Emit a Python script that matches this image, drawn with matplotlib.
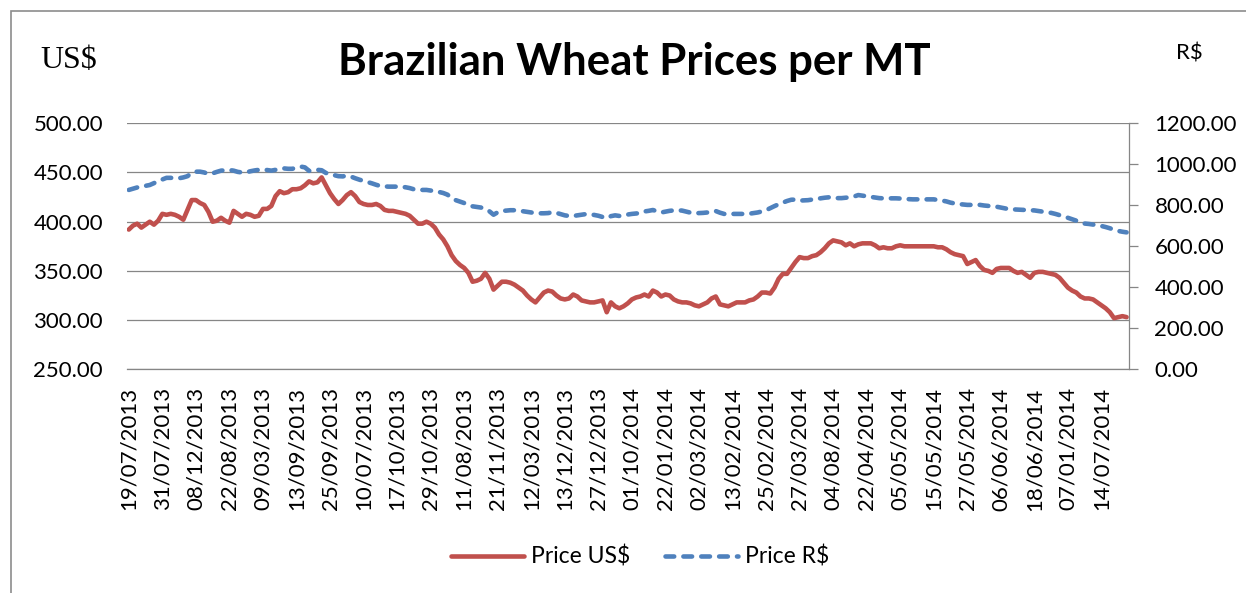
import numpy as np
import matplotlib.pyplot as plt
from matplotlib.patches import Rectangle

# Price series (every trading day)
price_usd = [
    392, 396, 398, 394, 397, 400, 397, 401, 408, 407,
    408, 407, 405, 402, 412, 422, 422, 419, 417, 410,
    400, 401, 404, 401, 399, 411, 408, 405, 408, 407,
    405, 406, 413, 413, 416, 426, 431, 429, 430, 433,
    433, 434, 437, 441, 439, 440, 445, 437, 429, 423,
    418, 422, 427, 430, 426, 420, 418, 417, 417, 418,
    416, 412, 411, 411, 410, 409, 408, 406, 402, 398,
    398, 400, 398, 394, 387, 382, 375, 366, 360, 356,
    353, 348, 339, 340, 342, 348, 342, 331, 335, 339,
    339, 338, 336, 333, 330, 325, 321, 318, 323, 328,
    330, 329, 325, 322, 321, 322, 326, 324, 320, 319,
    318, 318, 319, 320, 308, 318, 314, 312, 314, 317,
    321, 323, 324, 326, 324, 330, 328, 324, 326, 325,
    321, 319, 318, 318, 317, 315, 314, 316, 318, 322,
    324, 316, 315, 314, 316, 318, 318, 318, 320, 321,
    324, 328, 328, 327, 333, 342, 347, 347, 353, 359,
    364, 363, 363, 365, 366, 369, 373, 378, 381, 380,
    379, 376, 378, 375, 377, 378, 378, 378, 376, 373,
    374, 373, 373, 375, 376, 375, 375, 375, 375, 375,
    375, 375, 375, 374, 374, 372, 369, 367, 366, 365,
    357, 359, 361, 355, 351, 350, 348, 352, 353, 353,
    353, 350, 348, 349, 346, 343, 348, 349, 349, 348,
    347, 346, 343, 338, 333, 330, 328, 324, 322, 322,
    321, 318, 315, 312, 308, 302, 303, 304, 303,
]

price_brl = [
    875, 881, 887, 892, 895, 899, 908, 918, 926, 934,
    934, 932, 932, 936, 942, 958, 964, 964, 960, 953,
    956, 963, 969, 971, 972, 969, 963, 960, 961, 966,
    970, 973, 975, 972, 969, 973, 978, 980, 978, 978,
    984, 989, 985, 968, 968, 973, 971, 958, 952, 947,
    942, 941, 944, 940, 932, 925, 919, 913, 907, 900,
    894, 892, 891, 891, 891, 890, 888, 884, 878, 875,
    875, 875, 872, 869, 865, 860, 852, 836, 825, 818,
    811, 804, 795, 792, 789, 783, 771, 754, 766, 773,
    774, 776, 776, 774, 771, 768, 765, 762, 761, 761,
    762, 766, 763, 757, 751, 748, 748, 751, 754, 757,
    756, 753, 749, 743, 737, 747, 751, 748, 751, 755,
    758, 760, 762, 770, 773, 777, 771, 765, 769, 773,
    775, 776, 774, 769, 764, 761, 762, 763, 765, 770,
    772, 764, 758, 758, 758, 758, 758, 758, 759, 762,
    765, 770, 776, 786, 796, 805, 813, 821, 827, 828,
    823, 824, 825, 828, 832, 834, 837, 839, 838, 835,
    835, 837, 839, 843, 850, 847, 844, 841, 838, 835,
    834, 834, 834, 834, 833, 831, 830, 829, 829, 829,
    829, 829, 829, 826, 823, 819, 813, 809, 806, 804,
    802, 802, 802, 802, 799, 797, 795, 793, 789, 785,
    781, 780, 779, 778, 777, 776, 775, 772, 769, 766,
    763, 758, 752, 746, 739, 732, 725, 717, 711, 709,
    706, 703, 699, 694, 688, 681, 675, 671, 668,
]

# one label every 8 trading days, as printed on the axis
date_labels = [
    '19/07/2013', '31/07/2013', '08/12/2013', '22/08/2013', '09/03/2013',
    '13/09/2013', '25/09/2013', '10/07/2013', '17/10/2013', '29/10/2013',
    '11/08/2013', '21/11/2013', '12/03/2013', '13/12/2013', '27/12/2013',
    '01/10/2014', '22/01/2014', '02/03/2014', '13/02/2014', '25/02/2014',
    '27/03/2014', '04/08/2014', '22/04/2014', '05/05/2014', '15/05/2014',
    '27/05/2014', '06/06/2014', '18/06/2014', '07/01/2014', '14/07/2014',
]
label_step = 8

usd_ticks = np.arange(250, 501, 50)
brl_ticks = np.arange(0, 1201, 200)

RED = '#C0504D'
BLUE = '#4F81BD'
GRID = '#868686'
FONT = 'Lato'

W, H = 1246, 593
fig = plt.figure(figsize=(W / 100, H / 100), dpi=100)

x0, x1, ytop, ybot = 126.7, 1128.7, 123.3, 369.3
ax = fig.add_axes([x0 / W, 1 - ybot / H, (x1 - x0) / W, (ybot - ytop) / H])

x = np.arange(len(price_usd))
l1, = ax.plot(x, price_usd, color=RED, lw=3.3, solid_capstyle='round',
              solid_joinstyle='round', label='Price US$')
ax.set_xlim(-0.5, len(price_usd) - 0.5)
ax.set_ylim(250, 500)
ax.set_yticks(usd_ticks)
ax.set_yticklabels([f'{v:.2f}' for v in usd_ticks], fontsize=16, family=FONT)
ax.set_xticks(np.arange(len(date_labels)) * label_step)
ax.set_xticklabels(date_labels, rotation=90, fontsize=16, family=FONT)
ax.tick_params(axis='y', length=0, pad=17)
ax.tick_params(axis='x', length=0, pad=13)
ax.grid(axis='y', color=GRID, lw=0.9)
ax.set_axisbelow(True)
for s in ['top', 'left', 'right']:
    ax.spines[s].set_visible(False)
ax.spines['bottom'].set_color(GRID)
ax.spines['bottom'].set_linewidth(0.9)

ax2 = ax.twinx()
l2, = ax2.plot(x, price_brl, color=BLUE, lw=3.3, dashes=(1.9, 2.0),
               dash_capstyle='round', label='Price R$')
ax2.set_ylim(0, 1200)
ax2.set_yticks(brl_ticks)
ax2.set_yticklabels([f'{v:.2f}' for v in brl_ticks], fontsize=16, family=FONT)
ax2.tick_params(axis='y', length=6.5, width=0.9, color=GRID, pad=12)
for s in ['top', 'left', 'bottom']:
    ax2.spines[s].set_visible(False)
ax2.spines['right'].set_color(GRID)
ax2.spines['right'].set_linewidth(0.9)

fig.text(634 / W, 1 - 62 / H, 'Brazilian Wheat Prices per MT', ha='center',
         va='center', fontsize=31.5, fontweight='bold', family=FONT)
fig.text(69 / W, 1 - 60 / H, 'US$', ha='center', va='center', fontsize=23,
         family='Liberation Serif')
fig.text(1189 / W, 1 - 53 / H, 'R$', ha='center', va='center', fontsize=16,
         family=FONT)

leg = fig.legend([l1, l2], ['Price US$', 'Price R$'], loc='center',
                 bbox_to_anchor=(640 / W, 1 - 557 / H), ncol=2, frameon=False,
                 prop={'family': FONT, 'size': 16.5}, handlelength=3.2,
                 columnspacing=1.5, handletextpad=0.3)

# chart frame: left and top edges visible, the rest is cropped off
fig.patches.append(Rectangle((11 / W, -0.1), 1.2, 1.1 - 11 / H,
                             transform=fig.transFigure, fill=False,
                             edgecolor='#8C8C8C', lw=1.2))

fig.savefig('out.png', dpi=100)
